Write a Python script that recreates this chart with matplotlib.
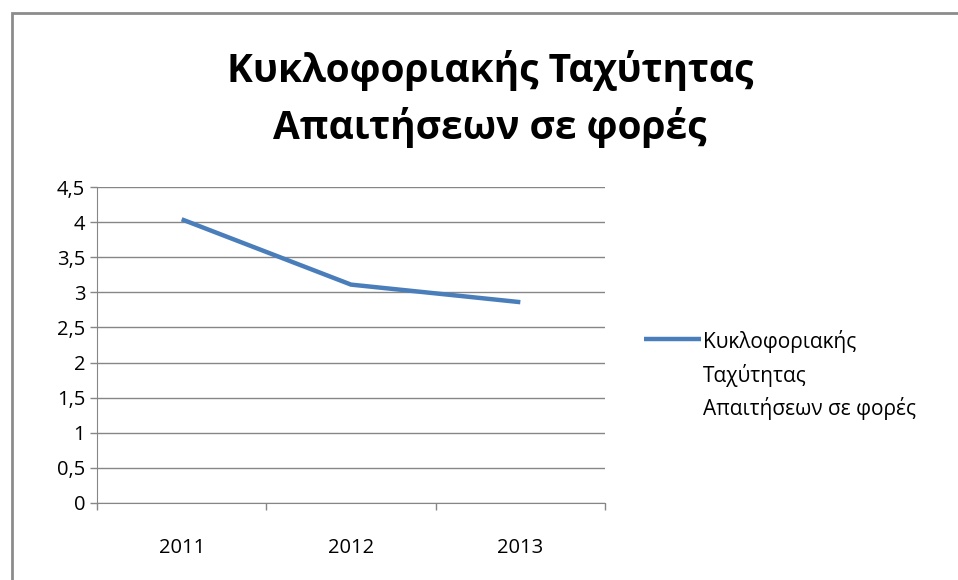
import matplotlib.pyplot as plt
from matplotlib.patches import Rectangle
from matplotlib.ticker import FuncFormatter, FixedLocator

plt.rcParams['font.family'] = ['Open Sans', 'DejaVu Sans']

years = ['2011', '2012', '2013']
values = [4.04, 3.11, 2.86]
series_name = 'Κυκλοφοριακής\nΤαχύτητας\nΑπαιτήσεων σε φορές'
title = 'Κυκλοφοριακής Ταχύτητας\nΑπαιτήσεων σε φορές'
yticks = [0, 0.5, 1, 1.5, 2, 2.5, 3, 3.5, 4, 4.5]

grid_col = '#868686'
line_col = '#4A7EBB'

fig = plt.figure(figsize=(9.58, 5.8), dpi=100)
ax = fig.add_axes([97/958, 1 - 503/580, (605-97)/958, (503-187)/580])

# outer chart frame
fig.add_artist(Rectangle((12/958, -0.05), 1.2, 1 - 13/580 + 0.05,
                         transform=fig.transFigure, fill=False,
                         edgecolor='#8c8c8c', linewidth=2))

x = list(range(len(years)))
ax.plot(x, values, color=line_col, linewidth=3.2, solid_capstyle='butt',
        label=series_name)

ax.set_xlim(-0.5, len(years) - 0.5)
ax.set_ylim(0, 4.5)
ax.set_yticks(yticks)
ax.yaxis.set_major_formatter(FuncFormatter(lambda v, p: ('%g' % v).replace('.', ',')))
ax.yaxis.grid(True, color=grid_col, linewidth=1)
ax.set_axisbelow(True)

# category boundaries as ticks, labels in the middle
ax.xaxis.set_major_locator(FixedLocator([i - 0.5 for i in range(len(years) + 1)]))
ax.xaxis.set_major_formatter(FuncFormatter(lambda v, p: ''))
ax.xaxis.set_minor_locator(FixedLocator(x))
ax.set_xticklabels(years, minor=True)
ax.tick_params(axis='x', which='minor', length=0, pad=25, labelsize=14.5)
ax.tick_params(axis='x', which='major', length=5, color=grid_col, width=1)
ax.tick_params(axis='y', length=5, color=grid_col, width=1, labelsize=14.5, pad=3.5)

for s in ['top', 'right']:
    ax.spines[s].set_visible(False)
ax.spines['left'].set_color(grid_col)
ax.spines['bottom'].set_color(grid_col)

fig.text(490/958, 1 - 99/580, title, ha='center', va='center',
         fontsize=28, fontweight='bold', linespacing=1.5)

leg = fig.legend(loc='upper left', bbox_to_anchor=(636/958, 1 - 322/580),
                 frameon=False, fontsize=15, handlelength=2.7, handletextpad=0.1,
                 borderaxespad=0)
for t in leg.get_texts():
    t.set_linespacing(1.58)
# put the legend line next to the first text line
hl = leg.get_lines()[0]
yd = hl.get_ydata()
hl.set_ydata([v + 26.3 for v in yd])

fig.savefig('out.png', dpi=100, facecolor='white')
